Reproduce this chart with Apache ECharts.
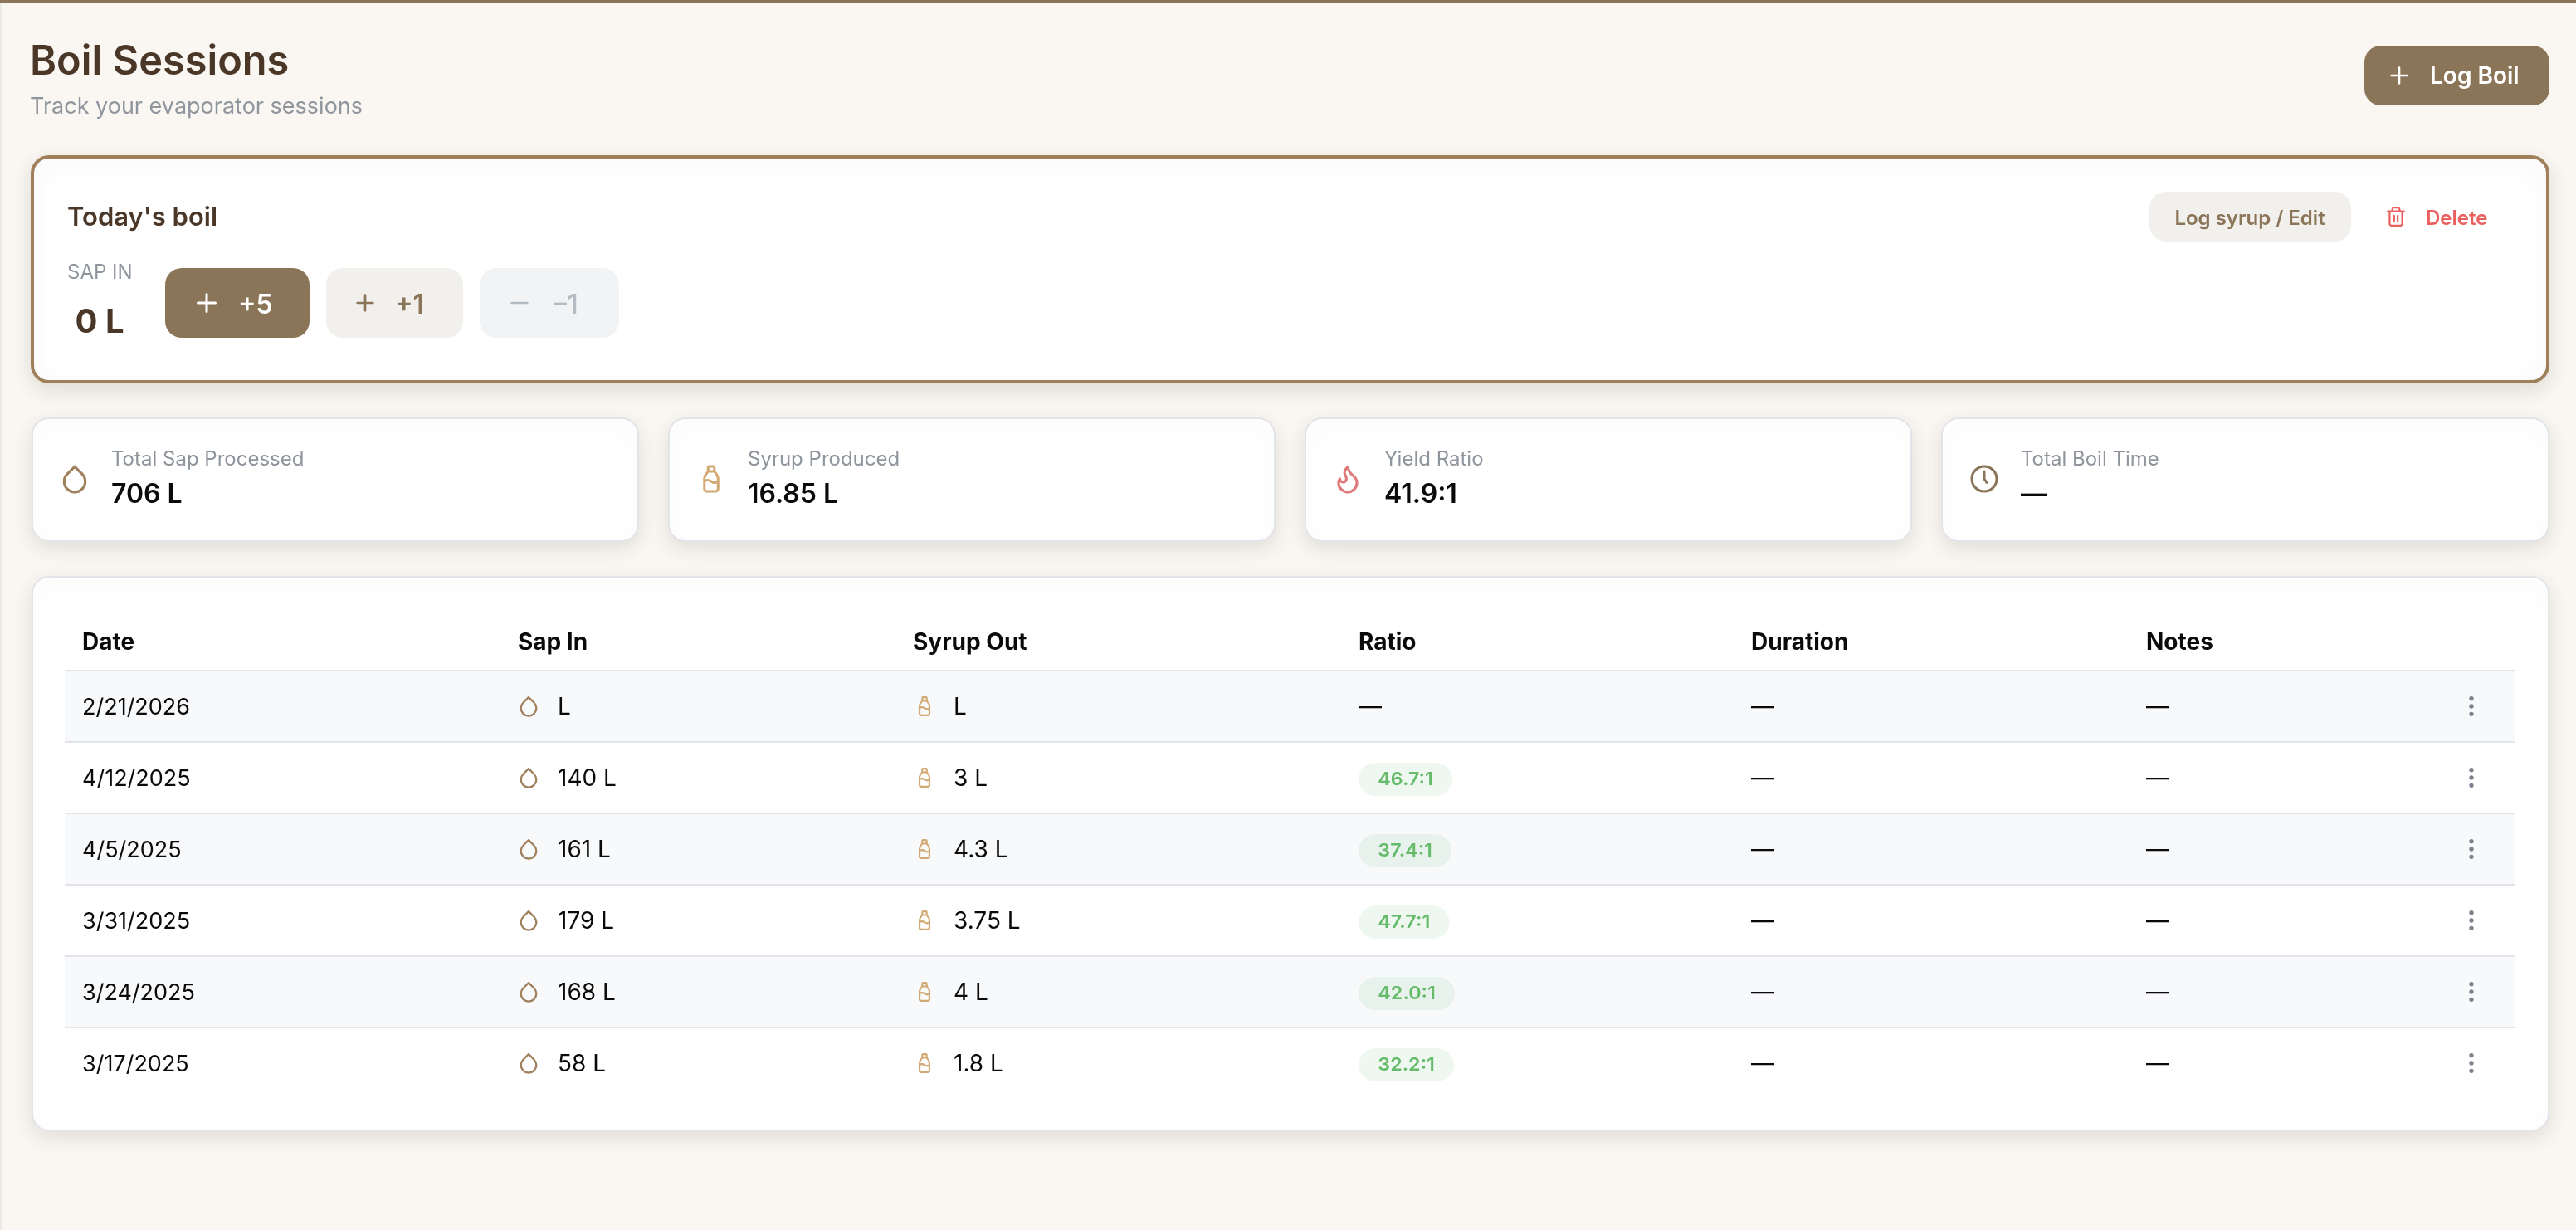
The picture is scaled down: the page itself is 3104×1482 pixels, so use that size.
<!DOCTYPE html>
<html>
<head>
<meta charset="utf-8">
<title>Boil Sessions</title>
<style>
html, body { margin: 0; padding: 0; background: #faf7f2; overflow: hidden; }
#main { width: 3104px; height: 1482px; }
</style>
<script src="https://cdn.jsdelivr.net/npm/echarts@6/dist/echarts.min.js"></script>
</head>
<body>
<div id="main"></div>
<script>
// table data
var tableHeaders = ['Date', 'Sap In', 'Syrup Out', 'Ratio', 'Duration', 'Notes'];
var rowDates = ['2/21/2026', '4/12/2025', '4/5/2025', '3/31/2025', '3/24/2025', '3/17/2025'];
var sapIn = [null, 140, 161, 179, 168, 58];
var syrupOut = [null, 3, 4.3, 3.75, 4, 1.8];
var ratios = [null, 46.7, 37.4, 47.7, 42.0, 32.2];

// stat cards
var statLabels = ['Total Sap Processed', 'Syrup Produced', 'Yield Ratio', 'Total Boil Time'];
var statValues = ['706 L', '16.85 L', '41.9:1', '—'];

var BROWN = '#8b7558', DARK = '#4a3728', GREY = '#8f959d', LINE = '#e2e4ea', RED = '#ec5f5f';
var FONT = 'Inter, "Noto Sans", sans-serif';

var paths = {
    drop: 'M12 2.69l5.66 5.66a8 8 0 1 1-11.31 0z',
    bottle: 'M10.5 2h3a1 1 0 0 1 1 1v2.5c0 1.5 3 3 3 6V20a2 2 0 0 1-2 2H8.5a2 2 0 0 1-2-2v-8.5c0-3 3-4.5 3-6V3a1 1 0 0 1 1-1zM9.5 6h5M6.5 14c2-1.5 3.5-1.5 5.5 0s3.5 1.5 5.5 0',
    flame: 'M8.5 14.5A2.5 2.5 0 0 0 11 12c0-1.38-.5-2-1-3-1.072-2.143-.224-4.054 2-6 .5 2.5 2 4.9 4 6.5 2 1.6 3 3.5 3 5.5a7 7 0 1 1-14 0c0-1.153.433-2.294 1-3a2.5 2.5 0 0 0 2.5 2.5z',
    clock: 'M22 12a10 10 0 1 1-20 0 10 10 0 0 1 20 0zM12 6v6l2 3',
    plus: 'M5 12h14M12 5v14',
    minus: 'M5 12h14',
    trash: 'M3 6h18M19 6v14c0 1-1 2-2 2H7c-1 0-2-1-2-2V6M8 6V4c0-1 1-2 2-2h4c1 0 2 1 2 2v2M10 11v6M14 11v6',
    dots: 'M13 12a1 1 0 1 1-2 0 1 1 0 0 1 2 0zM13 5a1 1 0 1 1-2 0 1 1 0 0 1 2 0zM13 19a1 1 0 1 1-2 0 1 1 0 0 1 2 0z'
};

function txt(x, y, text, size, weight, color, align) {
    return {
        type: 'text', x: x, y: y,
        style: {
            text: text, fill: color, align: align || 'left', verticalAlign: 'middle',
            font: weight + ' ' + size + 'px ' + FONT
        }
    };
}
function box(x, y, x2, y2, r, fill, extra) {
    var style = { fill: fill };
    for (var k in extra) style[k] = extra[k];
    return { type: 'rect', shape: { x: x, y: y, width: x2 - x, height: y2 - y, r: r }, style: style };
}
function icon(name, cx, cy, size, color, fill) {
    var s = size / 24;
    return {
        type: 'path', x: cx - 12 * s, y: cy - 12 * s, scaleX: s, scaleY: s,
        shape: { pathData: paths[name] },
        style: { fill: fill || 'none', stroke: color, lineWidth: 2, lineCap: 'round', lineJoin: 'round' }
    };
}

function cardStyle(stroke, w) {
    return { stroke: stroke, lineWidth: w, shadowBlur: 24, shadowOffsetY: 8, shadowColor: 'rgba(60,50,40,0.12)' };
}

var chrome = [
    box(0, 4, 3, 1482, 0, '#eceae6'),
    box(0, 0, 3104, 4, 0, BROWN),
    txt(36, 75, 'Boil Sessions', 48.7, 600, DARK),
    txt(36, 129, 'Track your evaporator sessions', 27, 400, GREY),

    box(2849, 55, 3072, 127, 20, BROWN),
    icon('plus', 2891, 91, 32, '#ffffff'),
    txt(2928, 93, 'Log Boil', 28, 600, '#ffffff'),

    // today's boil card
    box(39, 189, 3070, 460, 20, '#ffffff', cardStyle('#a07f5b', 4)),
    txt(81, 263, "Today's boil", 31, 600, DARK),
    txt(81, 329, 'SAP IN', 24, 400, GREY),
    txt(120, 389, '0 L', 40, 700, DARK, 'center'),

    box(199, 323, 373, 407, 20, BROWN),
    icon('plus', 249, 365, 36, '#ffffff'),
    txt(287, 368, '+5', 32, 600, '#ffffff'),

    box(393, 323, 558, 407, 20, '#f2f0ed'),
    icon('plus', 440, 365, 32, BROWN),
    txt(476, 368, '+1', 32, 600, BROWN),

    box(578, 323, 746, 407, 20, '#f2f3f5'),
    icon('minus', 626, 365, 32, '#b5bbc2'),
    txt(667, 368, '–1', 32, 600, '#b5bbc2'),

    box(2590, 231, 2833, 291, 20, '#f2f0ed'),
    txt(2711, 264, 'Log syrup / Edit', 24, 600, BROWN, 'center'),
    icon('trash', 2887, 261, 26, RED),
    txt(2923, 264, 'Delete', 24, 600, RED),

    // table card
    box(39, 695, 3071, 1362, 20, '#ffffff', cardStyle(LINE, 2))
];

// stat cards, one x per card
var statX = [[38, 770], [805, 1537], [1572, 2304], [2339, 3072]];
var statIcons = [['drop', '#a07f5b', 38], ['bottle', '#d2a973', 36], ['flame', '#e07a7a', 38], ['clock', BROWN, 36]];
statLabels.forEach(function (label, i) {
    var x = statX[i][0], x2 = statX[i][1];
    chrome.push(box(x + 1, 504, x2 - 1, 652, 20, '#ffffff', cardStyle(LINE, 2)));
    chrome.push(icon(statIcons[i][0], x + 52, 577, statIcons[i][2], statIcons[i][1]));
    chrome.push(txt(x + 96, 554, label, 24, 400, GREY));
    chrome.push(txt(x + 96, 596, statValues[i], 32, 600, '#0a0a0a'));
});

// header row
var colX = [99, 624, 1100, 1637, 2110, 2586];
tableHeaders.forEach(function (h, i) {
    chrome.push(txt(colX[i], 775, h, 28, 700, '#0a0a0a'));
});

var ROW0 = 808, ROW_H = 86;

function renderRow(params) {
    var i = params.dataIndex;
    var y = ROW0 + i * ROW_H, mid = y + ROW_H / 2;
    var kids = [];
    if (i % 2 === 0) kids.push(box(78, y, 3030, y + ROW_H, 0, '#f8f9fb'));
    kids.push(box(78, y - 1, 3030, y + 1, 0, LINE));
    kids.push(txt(colX[0], mid + 2, rowDates[i], 27, 400, '#0a0a0a'));
    kids.push(icon('drop', 637, mid, 28, '#a07f5b'));
    kids.push(txt(672, mid + 2, (sapIn[i] == null ? '' : sapIn[i] + ' ') + 'L', 28, 400, '#0a0a0a'));
    kids.push(icon('bottle', 1114, mid, 26, '#d2a973'));
    kids.push(txt(1149, mid + 2, (syrupOut[i] == null ? '' : syrupOut[i] + ' ') + 'L', 28, 400, '#0a0a0a'));
    if (ratios[i] == null) {
        kids.push(txt(colX[3], mid + 2, '—', 28, 400, '#0a0a0a'));
    } else {
        var pill = txt(colX[3], mid + 2, ratios[i].toFixed(1) + ':1', 22, 600, '#66bb6a');
        pill.scaleX = 1.06;
        pill.style.backgroundColor = 'rgba(102,187,106,0.1)';
        pill.style.padding = [6, 22];
        pill.style.lineHeight = 28;
        pill.style.borderRadius = 20;
        kids.push(pill);
    }
    kids.push(txt(colX[4], mid + 2, '—', 28, 400, '#0a0a0a'));
    kids.push(txt(colX[5], mid + 2, '—', 28, 400, '#0a0a0a'));
    kids.push(icon('dots', 2978, mid, 32, '#7a818c', '#7a818c'));
    return { type: 'group', children: kids };
}

var option = {
    animation: false,
    backgroundColor: '#faf7f2',
    series: [{
        type: 'custom',
        coordinateSystem: 'none',
        silent: true,
        z: 1,
        data: [0],
        renderItem: function () { return { type: 'group', children: chrome }; }
    }, {
        type: 'custom',
        coordinateSystem: 'none',
        silent: true,
        z: 2,
        data: rowDates.map(function (d, i) { return i; }),
        renderItem: renderRow
    }]
};

var chart = echarts.init(document.getElementById('main'));
chart.setOption(option);
window.onresize = function () { chart.resize(); };
</script>
</body>
</html>
